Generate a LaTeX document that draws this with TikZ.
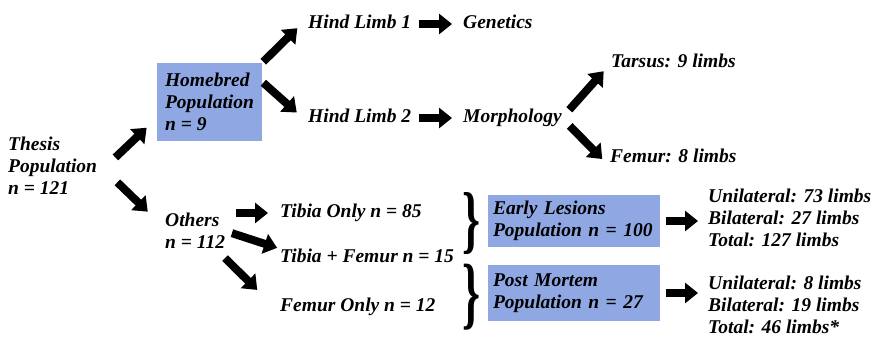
\documentclass[tikz,border=0pt]{standalone}
\usepackage{graphicx}
\usepackage{fontspec}
\setmainfont{Liberation Serif}
\usetikzlibrary{arrows.meta}
\definecolor{boxblue}{RGB}{143,168,228}

\tikzset{
  lbl/.style={anchor=west, inner sep=0pt, align=left},
  one/.style={lbl, text height=13.5pt, text depth=4.5pt},
  popbox/.style={fill=boxblue, inner sep=0pt, align=left},
  blk/.style={line width=8pt, -{Triangle[length=13pt,width=20pt]}},
  brc/.style={inner sep=0pt, font=\normalfont\bfseries},
}

\begin{document}
\begin{tikzpicture}[x=1pt, y=-1pt, font=\fontsize{19.5}{22}\selectfont\bfseries\itshape]
\useasboundingbox (0,0) rectangle (873,345);

\begin{scope}
    \node (thesis) [lbl] at (8,166) {Thesis\\Population\\n = 121};
    \node (home) [popbox, minimum width=105, minimum height=78] at (209.5,102) {Homebred\\Population\\n = 9};
    \node (others) [lbl] at (165,231) {Others\\n = 112};

    \node (hl1) [one] at (308,24) {Hind Limb 1};
    \node (hl2) [one] at (308,118) {Hind Limb 2};
    \node (gen) [one] at (463,24) {Genetics};
    \node (morph) [one] at (463,118) {Morphology};
    \node (tarsus) [one] at (611,63) {Tarsus: 9 limbs};
    \node (femur) [one] at (610,158) {Femur: 8 limbs};

    \node (tib1) [one] at (280,213) {Tibia Only n = 85};
    \node (tib2) [one] at (280,258) {Tibia + Femur n = 15};
    \node (femonly) [one] at (280,307) {Femur Only n = 12};

    \node (brace1) [brc] at (471,224) {\resizebox*{18pt}{62pt}{\}}};
    \node (brace2) [brc] at (471,297) {\resizebox*{18pt}{66pt}{\}}};

    \node (early) [popbox, minimum width=172, minimum height=52, text width=162] at (574,221) {Early Lesions\\Population n = 100};
    \node (post) [popbox, minimum width=172, minimum height=56, text width=162] at (574,293) {Post Mortem\\Population n = 27};

    \node (res1) [lbl] at (708,218) {Unilateral: 73 limbs\\Bilateral: 27 limbs\\Total: 127 limbs};
    \node (res2) [lbl] at (708,305) {Unilateral: 8 limbs\\Bilateral: 19 limbs\\Total: 46 limbs*};
\end{scope}

\begin{scope}[every path/.style={blk}]
    \draw [shorten <=25pt, shorten >=14pt] (thesis.-11) -- (home.197);
    \draw [shorten <=28pt, shorten >=24pt] (thesis.4) -- (others.175);
    \draw [shorten <=1.5pt, shorten >=15pt] (home.north east) -- (hl1.173);
    \draw [shorten <=1.5pt, shorten >=15pt] (home.21) -- (hl2.185);
    \draw [shorten <=8pt, shorten >=11pt] (hl1.east) -- (gen.west);
    \draw [shorten <=8pt, shorten >=11pt] (hl2.east) -- (morph.west);
    \draw [shorten <=11pt, shorten >=11pt] (morph.east) -- (tarsus.west);
    \draw [shorten <=11pt, shorten >=11pt] (morph.east) -- (femur.188);
    \draw [shorten <=11pt, shorten >=12pt] (others.east |- tib1.west) -- (tib1.west);
    \draw [shorten <=7pt, shorten >=3pt] (others.east) -- (tib2.north west);
    \draw [shorten <=13pt, shorten >=32pt] (others.-41) -- (femonly.184);
    \draw [shorten <=6pt, shorten >=10pt] (early.east) -- (early.east -| res1.west);
    \draw [shorten <=6pt, shorten >=10pt] (post.east) -- (post.east -| res2.west);
\end{scope}
\end{tikzpicture}
\end{document}
